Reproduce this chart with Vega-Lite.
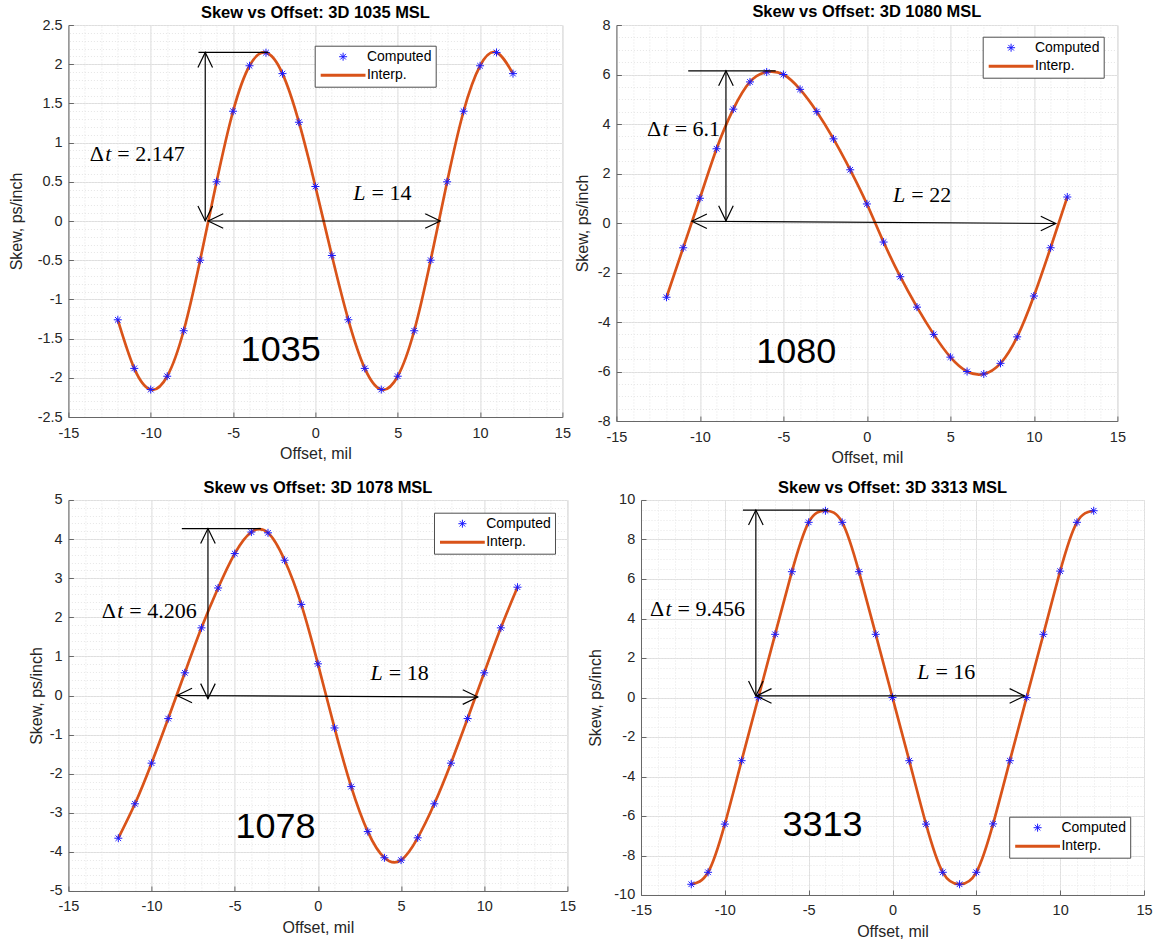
{
  "$schema": "https://vega.github.io/schema/vega-lite/v6.json",
  "padding": {"left": 7.4, "top": 3, "right": 2, "bottom": 4},
  "spacing": 14,
  "resolve": {"scale": {"color": "independent", "shape": "independent", "strokeWidth": "independent", "angle": "independent"}},
  "config": {
    "font": "Liberation Sans",
    "view": {"stroke": "#d9d9d9"},
    "axis": {"labelFont": "Liberation Sans", "labelFontSize": 14.5, "labelColor": "#262626", "titleFont": "Liberation Sans", "titleFontSize": 16, "titleFontWeight": "normal", "titleColor": "#262626", "domainColor": "#666666", "tickColor": "#666666", "gridColor": "#dedede", "gridOpacity": 1, "labelFlush": false, "labelOverlap": false},
    "title": {"font": "Liberation Sans", "fontSize": 16.5, "fontWeight": "bold", "color": "#000000", "anchor": "middle"},
    "legend": {"symbolSize": 64, "symbolOffset": 17.4, "labelOffset": 16.8, "padding": 4, "strokeColor": "#4d4d4d", "fillColor": "#ffffff", "labelFont": "Liberation Sans", "labelFontSize": 14, "labelColor": "#000000", "rowPadding": 4.5, "cornerRadius": 0, "labelLimit": 200}
  },
  "datasets": {
    "pts": [
      {"p":"1035","x":-12,"y":-1.26,"s":"Computed"},{"p":"1035","x":-11,"y":-1.88,"s":"Computed"},{"p":"1035","x":-10,"y":-2.15,"s":"Computed"},{"p":"1035","x":-9,"y":-1.98,"s":"Computed"},{"p":"1035","x":-8,"y":-1.4,"s":"Computed"},{"p":"1035","x":-7,"y":-0.5,"s":"Computed"},{"p":"1035","x":-6,"y":0.5,"s":"Computed"},{"p":"1035","x":-5,"y":1.4,"s":"Computed"},{"p":"1035","x":-4,"y":1.98,"s":"Computed"},{"p":"1035","x":-3,"y":2.147,"s":"Computed"},{"p":"1035","x":-2,"y":1.88,"s":"Computed"},{"p":"1035","x":-1,"y":1.26,"s":"Computed"},{"p":"1035","x":0,"y":0.44,"s":"Computed"},{"p":"1035","x":1,"y":-0.44,"s":"Computed"},{"p":"1035","x":2,"y":-1.26,"s":"Computed"},{"p":"1035","x":3,"y":-1.88,"s":"Computed"},{"p":"1035","x":4,"y":-2.15,"s":"Computed"},{"p":"1035","x":5,"y":-1.98,"s":"Computed"},{"p":"1035","x":6,"y":-1.4,"s":"Computed"},{"p":"1035","x":7,"y":-0.5,"s":"Computed"},{"p":"1035","x":8,"y":0.5,"s":"Computed"},{"p":"1035","x":9,"y":1.4,"s":"Computed"},{"p":"1035","x":10,"y":1.98,"s":"Computed"},{"p":"1035","x":11,"y":2.15,"s":"Computed"},{"p":"1035","x":12,"y":1.88,"s":"Computed"},
      {"p":"1080","x":-12,"y":-3.0,"s":"Computed"},{"p":"1080","x":-11,"y":-1.0,"s":"Computed"},{"p":"1080","x":-10,"y":1.0,"s":"Computed"},{"p":"1080","x":-9,"y":3.0,"s":"Computed"},{"p":"1080","x":-8,"y":4.6,"s":"Computed"},{"p":"1080","x":-7,"y":5.7,"s":"Computed"},{"p":"1080","x":-6,"y":6.1,"s":"Computed"},{"p":"1080","x":-5,"y":6.0,"s":"Computed"},{"p":"1080","x":-4,"y":5.4,"s":"Computed"},{"p":"1080","x":-3,"y":4.5,"s":"Computed"},{"p":"1080","x":-2,"y":3.4,"s":"Computed"},{"p":"1080","x":-1,"y":2.15,"s":"Computed"},{"p":"1080","x":0,"y":0.77,"s":"Computed"},{"p":"1080","x":1,"y":-0.77,"s":"Computed"},{"p":"1080","x":2,"y":-2.17,"s":"Computed"},{"p":"1080","x":3,"y":-3.4,"s":"Computed"},{"p":"1080","x":4,"y":-4.5,"s":"Computed"},{"p":"1080","x":5,"y":-5.42,"s":"Computed"},{"p":"1080","x":6,"y":-6.0,"s":"Computed"},{"p":"1080","x":7,"y":-6.1,"s":"Computed"},{"p":"1080","x":8,"y":-5.67,"s":"Computed"},{"p":"1080","x":9,"y":-4.6,"s":"Computed"},{"p":"1080","x":10,"y":-2.95,"s":"Computed"},{"p":"1080","x":11,"y":-1.0,"s":"Computed"},{"p":"1080","x":12,"y":1.05,"s":"Computed"},
      {"p":"1078","x":-12,"y":-3.65,"s":"Computed"},{"p":"1078","x":-11,"y":-2.77,"s":"Computed"},{"p":"1078","x":-10,"y":-1.73,"s":"Computed"},{"p":"1078","x":-9,"y":-0.59,"s":"Computed"},{"p":"1078","x":-8,"y":0.58,"s":"Computed"},{"p":"1078","x":-7,"y":1.73,"s":"Computed"},{"p":"1078","x":-6,"y":2.75,"s":"Computed"},{"p":"1078","x":-5,"y":3.63,"s":"Computed"},{"p":"1078","x":-4,"y":4.18,"s":"Computed"},{"p":"1078","x":-3,"y":4.16,"s":"Computed"},{"p":"1078","x":-2,"y":3.46,"s":"Computed"},{"p":"1078","x":-1,"y":2.33,"s":"Computed"},{"p":"1078","x":0,"y":0.81,"s":"Computed"},{"p":"1078","x":1,"y":-0.83,"s":"Computed"},{"p":"1078","x":2,"y":-2.33,"s":"Computed"},{"p":"1078","x":3,"y":-3.48,"s":"Computed"},{"p":"1078","x":4,"y":-4.15,"s":"Computed"},{"p":"1078","x":5,"y":-4.21,"s":"Computed"},{"p":"1078","x":6,"y":-3.64,"s":"Computed"},{"p":"1078","x":7,"y":-2.77,"s":"Computed"},{"p":"1078","x":8,"y":-1.73,"s":"Computed"},{"p":"1078","x":9,"y":-0.59,"s":"Computed"},{"p":"1078","x":10,"y":0.58,"s":"Computed"},{"p":"1078","x":11,"y":1.73,"s":"Computed"},{"p":"1078","x":12,"y":2.77,"s":"Computed"},
      {"p":"3313","x":-12,"y":-9.456,"s":"Computed"},{"p":"3313","x":-11,"y":-8.85,"s":"Computed"},{"p":"3313","x":-10,"y":-6.41,"s":"Computed"},{"p":"3313","x":-9,"y":-3.2,"s":"Computed"},{"p":"3313","x":-8,"y":0,"s":"Computed"},{"p":"3313","x":-7,"y":3.2,"s":"Computed"},{"p":"3313","x":-6,"y":6.37,"s":"Computed"},{"p":"3313","x":-5,"y":8.87,"s":"Computed"},{"p":"3313","x":-4,"y":9.456,"s":"Computed"},{"p":"3313","x":-3,"y":8.87,"s":"Computed"},{"p":"3313","x":-2,"y":6.37,"s":"Computed"},{"p":"3313","x":-1,"y":3.2,"s":"Computed"},{"p":"3313","x":0,"y":0,"s":"Computed"},{"p":"3313","x":1,"y":-3.2,"s":"Computed"},{"p":"3313","x":2,"y":-6.41,"s":"Computed"},{"p":"3313","x":3,"y":-8.85,"s":"Computed"},{"p":"3313","x":4,"y":-9.456,"s":"Computed"},{"p":"3313","x":5,"y":-8.85,"s":"Computed"},{"p":"3313","x":6,"y":-6.4,"s":"Computed"},{"p":"3313","x":7,"y":-3.2,"s":"Computed"},{"p":"3313","x":8,"y":0,"s":"Computed"},{"p":"3313","x":9,"y":3.2,"s":"Computed"},{"p":"3313","x":10,"y":6.4,"s":"Computed"},{"p":"3313","x":11,"y":8.87,"s":"Computed"},{"p":"3313","x":12,"y":9.456,"s":"Computed"}
    ],
    "seg": [
      {"p":"1035","x":-7.1,"y":2.15,"x2":-2.85,"y2":2.15},{"p":"1035","x":-6.69,"y":2.15,"x2":-6.69,"y2":0},{"p":"1035","x":-6.51,"y":0,"x2":7.58,"y2":0},
      {"p":"1080","x":-10.7,"y":6.15,"x2":-5.46,"y2":6.15},{"p":"1080","x":-8.44,"y":6.15,"x2":-8.44,"y2":0.09},{"p":"1080","x":-10.48,"y":0.07,"x2":11.31,"y2":-0.02},
      {"p":"1078","x":-8.18,"y":4.27,"x2":-3.43,"y2":4.27},{"p":"1078","x":-6.61,"y":4.27,"x2":-6.61,"y2":-0.08},{"p":"1078","x":-8.47,"y":0,"x2":9.61,"y2":-0.04},
      {"p":"3313","x":-8.92,"y":9.49,"x2":-3.85,"y2":9.49},{"p":"3313","x":-8.15,"y":9.49,"x2":-8.15,"y2":0.08},{"p":"3313","x":-8.11,"y":0.08,"x2":7.88,"y2":0.08}
    ],
    "heads": [
      {"p":"1035","x":-6.69,"y":2.15,"dir":"up"},{"p":"1035","x":-6.69,"y":0,"dir":"down"},{"p":"1035","x":-6.51,"y":0,"dir":"left"},{"p":"1035","x":7.58,"y":0,"dir":"right"},
      {"p":"1080","x":-8.44,"y":6.15,"dir":"up"},{"p":"1080","x":-8.44,"y":0.09,"dir":"down"},{"p":"1080","x":-10.48,"y":0.07,"dir":"left"},{"p":"1080","x":11.31,"y":-0.02,"dir":"right"},
      {"p":"1078","x":-6.61,"y":4.27,"dir":"up"},{"p":"1078","x":-6.61,"y":-0.08,"dir":"down"},{"p":"1078","x":-8.47,"y":0,"dir":"left"},{"p":"1078","x":9.61,"y":-0.04,"dir":"right"},
      {"p":"3313","x":-8.15,"y":9.49,"dir":"up"},{"p":"3313","x":-8.15,"y":0.08,"dir":"down"},{"p":"3313","x":-8.11,"y":0.08,"dir":"left"},{"p":"3313","x":7.88,"y":0.08,"dir":"right"}
    ],
    "lab": [
      {"p":"1035","x":-12.21,"y":0.77,"pre":"Δ","v":"t","rest":"= 2.147"},{"p":"1035","x":3.23,"y":0.27,"pre":"","v":"L","rest":"= 14"},
      {"p":"1080","x":-11.69,"y":3.53,"pre":"Δ","v":"t","rest":"= 6.1"},{"p":"1080","x":2.48,"y":0.86,"pre":"","v":"L","rest":"= 22"},
      {"p":"1078","x":-11.52,"y":1.99,"pre":"Δ","v":"t","rest":"= 4.206"},{"p":"1078","x":4.08,"y":0.4,"pre":"","v":"L","rest":"= 18"},
      {"p":"3313","x":-13.0,"y":4.13,"pre":"Δ","v":"t","rest":"= 9.456"},{"p":"3313","x":2.38,"y":0.95,"pre":"","v":"L","rest":"= 16"}
    ],
    "big": [
      {"p":"1035","x":-2.11,"y":-1.78,"t":"1035"},
      {"p":"1080","x":-4.23,"y":-5.67,"t":"1080"},
      {"p":"1078","x":-2.55,"y":-3.64,"t":"1078"},
      {"p":"3313","x":-4.18,"y":-7.01,"t":"3313"}
    ]
  },
  "vconcat": [
    {
      "spacing": 2,
      "resolve": {"scale": {"color": "independent", "shape": "independent", "strokeWidth": "independent", "angle": "independent"}},
      "hconcat": [
        {
          "width": 494, "height": 392,
          "title": {"text": "Skew vs Offset: 3D 1035 MSL", "offset": -4},
          "layer": [
            {"data": {"name": "pts"}, "transform": [{"filter": "datum.p == '1035'"}],
             "mark": {"type": "line", "interpolate": "natural", "color": "#D95319", "strokeWidth": 2.7},
             "encoding": {
               "x": {"field": "x", "type": "quantitative", "scale": {"domain": [-15, 15], "nice": false, "zero": false},
                     "axis": {"orient": "bottom", "values": [-15, -10, -5, 0, 5, 10, 15], "title": "Offset, mil", "grid": true, "labelExpr": "replace(format(datum.value, '~g'), '−', '-')", "tickSize": -5, "labelPadding": 14, "titlePadding": 6}},
               "y": {"field": "y", "type": "quantitative", "scale": {"domain": [-2.5, 2.5], "nice": false, "zero": false},
                     "axis": {"orient": "left", "values": [-2.5, -2, -1.5, -1, -0.5, 0, 0.5, 1, 1.5, 2, 2.5], "title": "Skew, ps/inch", "grid": true, "labelExpr": "replace(format(datum.value, '~g'), '−', '-')", "tickSize": -5, "labelPadding": 11.3, "titlePadding": 12.6}}
             }},
            {"data": {"name": "pts"}, "transform": [{"filter": "datum.p == '1035'"}],
             "mark": {"type": "point", "filled": false, "opacity": 1, "size": 64},
             "encoding": {
               "x": {"field": "x", "type": "quantitative", "scale": {"domain": [-15, 15], "nice": false, "zero": false}, "axis": null},
               "y": {"field": "y", "type": "quantitative", "scale": {"domain": [-2.5, 2.5], "nice": false, "zero": false}, "axis": null},
               "color": {"field": "s", "type": "nominal", "scale": {"domain": ["Computed", "Interp."], "range": ["#1a1aff", "#D95319"]}, "legend": {"orient": "none", "legendX": 246.3, "legendY": 20.7, "title": null}},
               "shape": {"field": "s", "type": "nominal", "scale": {"domain": ["Computed", "Interp."], "range": ["M-1,0L1,0M0,-1L0,1M-0.7,-0.7L0.7,0.7M-0.7,0.7L0.7,-0.7", "M-5.6,0L5.6,0"]}, "legend": {"orient": "none", "legendX": 246.3, "legendY": 20.7, "title": null}},
               "strokeWidth": {"field": "s", "type": "nominal", "scale": {"type": "point", "domain": ["Computed", "Interp."], "range": [1, 3], "padding": 0}, "legend": {"orient": "none", "legendX": 246.3, "legendY": 20.7, "title": null}}
             }},
            {"data": {"name": "seg"}, "transform": [{"filter": "datum.p == '1035'"}],
             "mark": {"type": "rule", "color": "#000000", "strokeWidth": 1.2},
             "encoding": {
               "x": {"field": "x", "type": "quantitative", "scale": {"domain": [-15, 15], "nice": false, "zero": false},
                     "axis": {"orient": "top", "values": [-15,-14,-13,-12,-11,-10,-9,-8,-7,-6,-5,-4,-3,-2,-1,0,1,2,3,4,5,6,7,8,9,10,11,12,13,14,15], "grid": true, "gridColor": "#e6e6e6", "gridDash": [1, 2], "labels": false, "ticks": false, "domain": false, "title": null}},
               "y": {"field": "y", "type": "quantitative", "scale": {"domain": [-2.5, 2.5], "nice": false, "zero": false},
                     "axis": {"orient": "right", "values": [-2.5,-2.4,-2.3,-2.2,-2.1,-2,-1.9,-1.8,-1.7,-1.6,-1.5,-1.4,-1.3,-1.2,-1.1,-1,-0.9,-0.8,-0.7,-0.6,-0.5,-0.4,-0.3,-0.2,-0.1,0,0.1,0.2,0.3,0.4,0.5,0.6,0.7,0.8,0.9,1,1.1,1.2,1.3,1.4,1.5,1.6,1.7,1.8,1.9,2,2.1,2.2,2.3,2.4,2.5], "grid": true, "gridColor": "#e6e6e6", "gridDash": [1, 2], "labels": false, "ticks": false, "domain": false, "title": null}},
               "x2": {"field": "x2"}, "y2": {"field": "y2"}
             }},
            {"data": {"name": "heads"}, "transform": [{"filter": "datum.p == '1035'"}],
             "mark": {"type": "point", "shape": "M3,-1.46L0,0L3,1.46", "filled": false, "stroke": "#000000", "strokeWidth": 1.2, "size": 100, "opacity": 1},
             "encoding": {
               "x": {"field": "x", "type": "quantitative", "scale": {"domain": [-15, 15], "nice": false, "zero": false}, "axis": null},
               "y": {"field": "y", "type": "quantitative", "scale": {"domain": [-2.5, 2.5], "nice": false, "zero": false}, "axis": null},
               "angle": {"field": "dir", "type": "nominal", "scale": {"type": "point", "domain": ["left", "up", "right", "down"], "range": [0, 270], "padding": 0}, "legend": null}
             }},
            {"data": {"name": "big"}, "transform": [{"filter": "datum.p == '1035'"}],
             "mark": {"type": "text", "font": "Liberation Sans", "fontSize": 36, "align": "center", "baseline": "alphabetic", "color": "#000000"},
             "encoding": {
               "x": {"field": "x", "type": "quantitative", "scale": {"domain": [-15, 15], "nice": false, "zero": false}, "axis": null},
               "y": {"field": "y", "type": "quantitative", "scale": {"domain": [-2.5, 2.5], "nice": false, "zero": false}, "axis": null},
               "text": {"field": "t"}
             }},
            {"data": {"name": "lab"}, "transform": [{"filter": "datum.p == '1035'"}],
             "mark": {"type": "text", "font": "Liberation Serif", "fontSize": 22, "align": "right", "dx": -10.5, "baseline": "alphabetic", "color": "#000000"},
             "encoding": {
               "x": {"field": "x", "type": "quantitative", "scale": {"domain": [-15, 15], "nice": false, "zero": false}, "axis": null},
               "y": {"field": "y", "type": "quantitative", "scale": {"domain": [-2.5, 2.5], "nice": false, "zero": false}, "axis": null},
               "text": {"field": "pre"}
             }},
            {"data": {"name": "lab"}, "transform": [{"filter": "datum.p == '1035'"}],
             "mark": {"type": "text", "font": "Liberation Serif", "fontStyle": "italic", "fontSize": 22, "align": "right", "dx": -3, "baseline": "alphabetic", "color": "#000000"},
             "encoding": {
               "x": {"field": "x", "type": "quantitative", "scale": {"domain": [-15, 15], "nice": false, "zero": false}, "axis": null},
               "y": {"field": "y", "type": "quantitative", "scale": {"domain": [-2.5, 2.5], "nice": false, "zero": false}, "axis": null},
               "text": {"field": "v"}
             }},
            {"data": {"name": "lab"}, "transform": [{"filter": "datum.p == '1035'"}],
             "mark": {"type": "text", "font": "Liberation Serif", "fontSize": 22, "align": "left", "dx": 3, "baseline": "alphabetic", "color": "#000000"},
             "encoding": {
               "x": {"field": "x", "type": "quantitative", "scale": {"domain": [-15, 15], "nice": false, "zero": false}, "axis": null},
               "y": {"field": "y", "type": "quantitative", "scale": {"domain": [-2.5, 2.5], "nice": false, "zero": false}, "axis": null},
               "text": {"field": "rest"}
             }}
          ]
        },
        {
          "width": 501, "height": 396,
          "title": {"text": "Skew vs Offset: 3D 1080 MSL", "offset": -3},
          "layer": [
            {"data": {"name": "pts"}, "transform": [{"filter": "datum.p == '1080'"}],
             "mark": {"type": "line", "interpolate": "natural", "color": "#D95319", "strokeWidth": 2.7},
             "encoding": {
               "x": {"field": "x", "type": "quantitative", "scale": {"domain": [-15, 15], "nice": false, "zero": false},
                     "axis": {"orient": "bottom", "values": [-15, -10, -5, 0, 5, 10, 15], "title": "Offset, mil", "grid": true, "labelExpr": "replace(format(datum.value, '~g'), '−', '-')", "tickSize": -5, "labelPadding": 14, "titlePadding": 6}},
               "y": {"field": "y", "type": "quantitative", "scale": {"domain": [-8, 8], "nice": false, "zero": false},
                     "axis": {"orient": "left", "values": [-8, -6, -4, -2, 0, 2, 4, 6, 8], "title": "Skew, ps/inch", "grid": true, "labelExpr": "replace(format(datum.value, '~g'), '−', '-')", "tickSize": -5, "labelPadding": 11.3, "titlePadding": 6.5}}
             }},
            {"data": {"name": "pts"}, "transform": [{"filter": "datum.p == '1080'"}],
             "mark": {"type": "point", "filled": false, "opacity": 1, "size": 64},
             "encoding": {
               "x": {"field": "x", "type": "quantitative", "scale": {"domain": [-15, 15], "nice": false, "zero": false}, "axis": null},
               "y": {"field": "y", "type": "quantitative", "scale": {"domain": [-8, 8], "nice": false, "zero": false}, "axis": null},
               "color": {"field": "s", "type": "nominal", "scale": {"domain": ["Computed", "Interp."], "range": ["#1a1aff", "#D95319"]}, "legend": {"orient": "none", "legendX": 366.3, "legendY": 11.7, "title": null}},
               "shape": {"field": "s", "type": "nominal", "scale": {"domain": ["Computed", "Interp."], "range": ["M-1,0L1,0M0,-1L0,1M-0.7,-0.7L0.7,0.7M-0.7,0.7L0.7,-0.7", "M-5.6,0L5.6,0"]}, "legend": {"orient": "none", "legendX": 366.3, "legendY": 11.7, "title": null}},
               "strokeWidth": {"field": "s", "type": "nominal", "scale": {"type": "point", "domain": ["Computed", "Interp."], "range": [1, 3], "padding": 0}, "legend": {"orient": "none", "legendX": 366.3, "legendY": 11.7, "title": null}}
             }},
            {"data": {"name": "seg"}, "transform": [{"filter": "datum.p == '1080'"}],
             "mark": {"type": "rule", "color": "#000000", "strokeWidth": 1.2},
             "encoding": {
               "x": {"field": "x", "type": "quantitative", "scale": {"domain": [-15, 15], "nice": false, "zero": false},
                     "axis": {"orient": "top", "values": [-15,-14,-13,-12,-11,-10,-9,-8,-7,-6,-5,-4,-3,-2,-1,0,1,2,3,4,5,6,7,8,9,10,11,12,13,14,15], "grid": true, "gridColor": "#e6e6e6", "gridDash": [1, 2], "labels": false, "ticks": false, "domain": false, "title": null}},
               "y": {"field": "y", "type": "quantitative", "scale": {"domain": [-8, 8], "nice": false, "zero": false},
                     "axis": {"orient": "right", "values": [-8,-7.5,-7,-6.5,-6,-5.5,-5,-4.5,-4,-3.5,-3,-2.5,-2,-1.5,-1,-0.5,0,0.5,1,1.5,2,2.5,3,3.5,4,4.5,5,5.5,6,6.5,7,7.5,8], "grid": true, "gridColor": "#e6e6e6", "gridDash": [1, 2], "labels": false, "ticks": false, "domain": false, "title": null}},
               "x2": {"field": "x2"}, "y2": {"field": "y2"}
             }},
            {"data": {"name": "heads"}, "transform": [{"filter": "datum.p == '1080'"}],
             "mark": {"type": "point", "shape": "M3,-1.46L0,0L3,1.46", "filled": false, "stroke": "#000000", "strokeWidth": 1.2, "size": 100, "opacity": 1},
             "encoding": {
               "x": {"field": "x", "type": "quantitative", "scale": {"domain": [-15, 15], "nice": false, "zero": false}, "axis": null},
               "y": {"field": "y", "type": "quantitative", "scale": {"domain": [-8, 8], "nice": false, "zero": false}, "axis": null},
               "angle": {"field": "dir", "type": "nominal", "scale": {"type": "point", "domain": ["left", "up", "right", "down"], "range": [0, 270], "padding": 0}, "legend": null}
             }},
            {"data": {"name": "big"}, "transform": [{"filter": "datum.p == '1080'"}],
             "mark": {"type": "text", "font": "Liberation Sans", "fontSize": 36, "align": "center", "baseline": "alphabetic", "color": "#000000"},
             "encoding": {
               "x": {"field": "x", "type": "quantitative", "scale": {"domain": [-15, 15], "nice": false, "zero": false}, "axis": null},
               "y": {"field": "y", "type": "quantitative", "scale": {"domain": [-8, 8], "nice": false, "zero": false}, "axis": null},
               "text": {"field": "t"}
             }},
            {"data": {"name": "lab"}, "transform": [{"filter": "datum.p == '1080'"}],
             "mark": {"type": "text", "font": "Liberation Serif", "fontSize": 22, "align": "right", "dx": -10.5, "baseline": "alphabetic", "color": "#000000"},
             "encoding": {
               "x": {"field": "x", "type": "quantitative", "scale": {"domain": [-15, 15], "nice": false, "zero": false}, "axis": null},
               "y": {"field": "y", "type": "quantitative", "scale": {"domain": [-8, 8], "nice": false, "zero": false}, "axis": null},
               "text": {"field": "pre"}
             }},
            {"data": {"name": "lab"}, "transform": [{"filter": "datum.p == '1080'"}],
             "mark": {"type": "text", "font": "Liberation Serif", "fontStyle": "italic", "fontSize": 22, "align": "right", "dx": -3, "baseline": "alphabetic", "color": "#000000"},
             "encoding": {
               "x": {"field": "x", "type": "quantitative", "scale": {"domain": [-15, 15], "nice": false, "zero": false}, "axis": null},
               "y": {"field": "y", "type": "quantitative", "scale": {"domain": [-8, 8], "nice": false, "zero": false}, "axis": null},
               "text": {"field": "v"}
             }},
            {"data": {"name": "lab"}, "transform": [{"filter": "datum.p == '1080'"}],
             "mark": {"type": "text", "font": "Liberation Serif", "fontSize": 22, "align": "left", "dx": 3, "baseline": "alphabetic", "color": "#000000"},
             "encoding": {
               "x": {"field": "x", "type": "quantitative", "scale": {"domain": [-15, 15], "nice": false, "zero": false}, "axis": null},
               "y": {"field": "y", "type": "quantitative", "scale": {"domain": [-8, 8], "nice": false, "zero": false}, "axis": null},
               "text": {"field": "rest"}
             }}
          ]
        }
      ]
    },
    {
      "spacing": 10.6,
      "resolve": {"scale": {"color": "independent", "shape": "independent", "strokeWidth": "independent", "angle": "independent"}},
      "hconcat": [
        {
          "width": 499, "height": 391,
          "title": {"text": "Skew vs Offset: 3D 1078 MSL", "offset": -5},
          "layer": [
            {"data": {"name": "pts"}, "transform": [{"filter": "datum.p == '1078'"}],
             "mark": {"type": "line", "interpolate": "natural", "color": "#D95319", "strokeWidth": 2.7},
             "encoding": {
               "x": {"field": "x", "type": "quantitative", "scale": {"domain": [-15, 15], "nice": false, "zero": false},
                     "axis": {"orient": "bottom", "values": [-15, -10, -5, 0, 5, 10, 15], "title": "Offset, mil", "grid": true, "labelExpr": "replace(format(datum.value, '~g'), '−', '-')", "tickSize": -5, "labelPadding": 14, "titlePadding": 6}},
               "y": {"field": "y", "type": "quantitative", "scale": {"domain": [-5, 5], "nice": false, "zero": false},
                     "axis": {"orient": "left", "values": [-5, -4, -3, -2, -1, 0, 1, 2, 3, 4, 5], "title": "Skew, ps/inch", "grid": true, "labelExpr": "replace(format(datum.value, '~g'), '−', '-')", "tickSize": -5, "labelPadding": 11.3, "titlePadding": 5.2}}
             }},
            {"data": {"name": "pts"}, "transform": [{"filter": "datum.p == '1078'"}],
             "mark": {"type": "point", "filled": false, "opacity": 1, "size": 64},
             "encoding": {
               "x": {"field": "x", "type": "quantitative", "scale": {"domain": [-15, 15], "nice": false, "zero": false}, "axis": null},
               "y": {"field": "y", "type": "quantitative", "scale": {"domain": [-5, 5], "nice": false, "zero": false}, "axis": null},
               "color": {"field": "s", "type": "nominal", "scale": {"domain": ["Computed", "Interp."], "range": ["#1a1aff", "#D95319"]}, "legend": {"orient": "none", "legendX": 365.6, "legendY": 12.7, "title": null}},
               "shape": {"field": "s", "type": "nominal", "scale": {"domain": ["Computed", "Interp."], "range": ["M-1,0L1,0M0,-1L0,1M-0.7,-0.7L0.7,0.7M-0.7,0.7L0.7,-0.7", "M-5.6,0L5.6,0"]}, "legend": {"orient": "none", "legendX": 365.6, "legendY": 12.7, "title": null}},
               "strokeWidth": {"field": "s", "type": "nominal", "scale": {"type": "point", "domain": ["Computed", "Interp."], "range": [1, 3], "padding": 0}, "legend": {"orient": "none", "legendX": 365.6, "legendY": 12.7, "title": null}}
             }},
            {"data": {"name": "seg"}, "transform": [{"filter": "datum.p == '1078'"}],
             "mark": {"type": "rule", "color": "#000000", "strokeWidth": 1.2},
             "encoding": {
               "x": {"field": "x", "type": "quantitative", "scale": {"domain": [-15, 15], "nice": false, "zero": false},
                     "axis": {"orient": "top", "values": [-15,-14,-13,-12,-11,-10,-9,-8,-7,-6,-5,-4,-3,-2,-1,0,1,2,3,4,5,6,7,8,9,10,11,12,13,14,15], "grid": true, "gridColor": "#e6e6e6", "gridDash": [1, 2], "labels": false, "ticks": false, "domain": false, "title": null}},
               "y": {"field": "y", "type": "quantitative", "scale": {"domain": [-5, 5], "nice": false, "zero": false},
                     "axis": {"orient": "right", "values": [-5,-4.8,-4.6,-4.4,-4.2,-4,-3.8,-3.6,-3.4,-3.2,-3,-2.8,-2.6,-2.4,-2.2,-2,-1.8,-1.6,-1.4,-1.2,-1,-0.8,-0.6,-0.4,-0.2,0,0.2,0.4,0.6,0.8,1,1.2,1.4,1.6,1.8,2,2.2,2.4,2.6,2.8,3,3.2,3.4,3.6,3.8,4,4.2,4.4,4.6,4.8,5], "grid": true, "gridColor": "#e6e6e6", "gridDash": [1, 2], "labels": false, "ticks": false, "domain": false, "title": null}},
               "x2": {"field": "x2"}, "y2": {"field": "y2"}
             }},
            {"data": {"name": "heads"}, "transform": [{"filter": "datum.p == '1078'"}],
             "mark": {"type": "point", "shape": "M3,-1.46L0,0L3,1.46", "filled": false, "stroke": "#000000", "strokeWidth": 1.2, "size": 100, "opacity": 1},
             "encoding": {
               "x": {"field": "x", "type": "quantitative", "scale": {"domain": [-15, 15], "nice": false, "zero": false}, "axis": null},
               "y": {"field": "y", "type": "quantitative", "scale": {"domain": [-5, 5], "nice": false, "zero": false}, "axis": null},
               "angle": {"field": "dir", "type": "nominal", "scale": {"type": "point", "domain": ["left", "up", "right", "down"], "range": [0, 270], "padding": 0}, "legend": null}
             }},
            {"data": {"name": "big"}, "transform": [{"filter": "datum.p == '1078'"}],
             "mark": {"type": "text", "font": "Liberation Sans", "fontSize": 36, "align": "center", "baseline": "alphabetic", "color": "#000000"},
             "encoding": {
               "x": {"field": "x", "type": "quantitative", "scale": {"domain": [-15, 15], "nice": false, "zero": false}, "axis": null},
               "y": {"field": "y", "type": "quantitative", "scale": {"domain": [-5, 5], "nice": false, "zero": false}, "axis": null},
               "text": {"field": "t"}
             }},
            {"data": {"name": "lab"}, "transform": [{"filter": "datum.p == '1078'"}],
             "mark": {"type": "text", "font": "Liberation Serif", "fontSize": 22, "align": "right", "dx": -10.5, "baseline": "alphabetic", "color": "#000000"},
             "encoding": {
               "x": {"field": "x", "type": "quantitative", "scale": {"domain": [-15, 15], "nice": false, "zero": false}, "axis": null},
               "y": {"field": "y", "type": "quantitative", "scale": {"domain": [-5, 5], "nice": false, "zero": false}, "axis": null},
               "text": {"field": "pre"}
             }},
            {"data": {"name": "lab"}, "transform": [{"filter": "datum.p == '1078'"}],
             "mark": {"type": "text", "font": "Liberation Serif", "fontStyle": "italic", "fontSize": 22, "align": "right", "dx": -3, "baseline": "alphabetic", "color": "#000000"},
             "encoding": {
               "x": {"field": "x", "type": "quantitative", "scale": {"domain": [-15, 15], "nice": false, "zero": false}, "axis": null},
               "y": {"field": "y", "type": "quantitative", "scale": {"domain": [-5, 5], "nice": false, "zero": false}, "axis": null},
               "text": {"field": "v"}
             }},
            {"data": {"name": "lab"}, "transform": [{"filter": "datum.p == '1078'"}],
             "mark": {"type": "text", "font": "Liberation Serif", "fontSize": 22, "align": "left", "dx": 3, "baseline": "alphabetic", "color": "#000000"},
             "encoding": {
               "x": {"field": "x", "type": "quantitative", "scale": {"domain": [-15, 15], "nice": false, "zero": false}, "axis": null},
               "y": {"field": "y", "type": "quantitative", "scale": {"domain": [-5, 5], "nice": false, "zero": false}, "axis": null},
               "text": {"field": "rest"}
             }}
          ]
        },
        {
          "width": 503, "height": 395,
          "title": {"text": "Skew vs Offset: 3D 3313 MSL", "offset": -5},
          "layer": [
            {"data": {"name": "pts"}, "transform": [{"filter": "datum.p == '3313'"}],
             "mark": {"type": "line", "interpolate": "natural", "color": "#D95319", "strokeWidth": 2.7},
             "encoding": {
               "x": {"field": "x", "type": "quantitative", "scale": {"domain": [-15, 15], "nice": false, "zero": false},
                     "axis": {"orient": "bottom", "values": [-15, -10, -5, 0, 5, 10, 15], "title": "Offset, mil", "grid": true, "labelExpr": "replace(format(datum.value, '~g'), '−', '-')", "tickSize": -5, "labelPadding": 14, "titlePadding": 6}},
               "y": {"field": "y", "type": "quantitative", "scale": {"domain": [-10, 10], "nice": false, "zero": false},
                     "axis": {"orient": "left", "values": [-10, -8, -6, -4, -2, 0, 2, 4, 6, 8, 10], "title": "Skew, ps/inch", "grid": true, "labelExpr": "replace(format(datum.value, '~g'), '−', '-')", "tickSize": -5, "labelPadding": 11.3, "titlePadding": 9.8}}
             }},
            {"data": {"name": "pts"}, "transform": [{"filter": "datum.p == '3313'"}],
             "mark": {"type": "point", "filled": false, "opacity": 1, "size": 64},
             "encoding": {
               "x": {"field": "x", "type": "quantitative", "scale": {"domain": [-15, 15], "nice": false, "zero": false}, "axis": null},
               "y": {"field": "y", "type": "quantitative", "scale": {"domain": [-10, 10], "nice": false, "zero": false}, "axis": null},
               "color": {"field": "s", "type": "nominal", "scale": {"domain": ["Computed", "Interp."], "range": ["#1a1aff", "#D95319"]}, "legend": {"orient": "none", "legendX": 368.2, "legendY": 316.7, "title": null}},
               "shape": {"field": "s", "type": "nominal", "scale": {"domain": ["Computed", "Interp."], "range": ["M-1,0L1,0M0,-1L0,1M-0.7,-0.7L0.7,0.7M-0.7,0.7L0.7,-0.7", "M-5.6,0L5.6,0"]}, "legend": {"orient": "none", "legendX": 368.2, "legendY": 316.7, "title": null}},
               "strokeWidth": {"field": "s", "type": "nominal", "scale": {"type": "point", "domain": ["Computed", "Interp."], "range": [1, 3], "padding": 0}, "legend": {"orient": "none", "legendX": 368.2, "legendY": 316.7, "title": null}}
             }},
            {"data": {"name": "seg"}, "transform": [{"filter": "datum.p == '3313'"}],
             "mark": {"type": "rule", "color": "#000000", "strokeWidth": 1.2},
             "encoding": {
               "x": {"field": "x", "type": "quantitative", "scale": {"domain": [-15, 15], "nice": false, "zero": false},
                     "axis": {"orient": "top", "values": [-15,-14,-13,-12,-11,-10,-9,-8,-7,-6,-5,-4,-3,-2,-1,0,1,2,3,4,5,6,7,8,9,10,11,12,13,14,15], "grid": true, "gridColor": "#e6e6e6", "gridDash": [1, 2], "labels": false, "ticks": false, "domain": false, "title": null}},
               "y": {"field": "y", "type": "quantitative", "scale": {"domain": [-10, 10], "nice": false, "zero": false},
                     "axis": {"orient": "right", "values": [-10,-9.5,-9,-8.5,-8,-7.5,-7,-6.5,-6,-5.5,-5,-4.5,-4,-3.5,-3,-2.5,-2,-1.5,-1,-0.5,0,0.5,1,1.5,2,2.5,3,3.5,4,4.5,5,5.5,6,6.5,7,7.5,8,8.5,9,9.5,10], "grid": true, "gridColor": "#e6e6e6", "gridDash": [1, 2], "labels": false, "ticks": false, "domain": false, "title": null}},
               "x2": {"field": "x2"}, "y2": {"field": "y2"}
             }},
            {"data": {"name": "heads"}, "transform": [{"filter": "datum.p == '3313'"}],
             "mark": {"type": "point", "shape": "M3,-1.46L0,0L3,1.46", "filled": false, "stroke": "#000000", "strokeWidth": 1.2, "size": 100, "opacity": 1},
             "encoding": {
               "x": {"field": "x", "type": "quantitative", "scale": {"domain": [-15, 15], "nice": false, "zero": false}, "axis": null},
               "y": {"field": "y", "type": "quantitative", "scale": {"domain": [-10, 10], "nice": false, "zero": false}, "axis": null},
               "angle": {"field": "dir", "type": "nominal", "scale": {"type": "point", "domain": ["left", "up", "right", "down"], "range": [0, 270], "padding": 0}, "legend": null}
             }},
            {"data": {"name": "big"}, "transform": [{"filter": "datum.p == '3313'"}],
             "mark": {"type": "text", "font": "Liberation Sans", "fontSize": 36, "align": "center", "baseline": "alphabetic", "color": "#000000"},
             "encoding": {
               "x": {"field": "x", "type": "quantitative", "scale": {"domain": [-15, 15], "nice": false, "zero": false}, "axis": null},
               "y": {"field": "y", "type": "quantitative", "scale": {"domain": [-10, 10], "nice": false, "zero": false}, "axis": null},
               "text": {"field": "t"}
             }},
            {"data": {"name": "lab"}, "transform": [{"filter": "datum.p == '3313'"}],
             "mark": {"type": "text", "font": "Liberation Serif", "fontSize": 22, "align": "right", "dx": -10.5, "baseline": "alphabetic", "color": "#000000"},
             "encoding": {
               "x": {"field": "x", "type": "quantitative", "scale": {"domain": [-15, 15], "nice": false, "zero": false}, "axis": null},
               "y": {"field": "y", "type": "quantitative", "scale": {"domain": [-10, 10], "nice": false, "zero": false}, "axis": null},
               "text": {"field": "pre"}
             }},
            {"data": {"name": "lab"}, "transform": [{"filter": "datum.p == '3313'"}],
             "mark": {"type": "text", "font": "Liberation Serif", "fontStyle": "italic", "fontSize": 22, "align": "right", "dx": -3, "baseline": "alphabetic", "color": "#000000"},
             "encoding": {
               "x": {"field": "x", "type": "quantitative", "scale": {"domain": [-15, 15], "nice": false, "zero": false}, "axis": null},
               "y": {"field": "y", "type": "quantitative", "scale": {"domain": [-10, 10], "nice": false, "zero": false}, "axis": null},
               "text": {"field": "v"}
             }},
            {"data": {"name": "lab"}, "transform": [{"filter": "datum.p == '3313'"}],
             "mark": {"type": "text", "font": "Liberation Serif", "fontSize": 22, "align": "left", "dx": 3, "baseline": "alphabetic", "color": "#000000"},
             "encoding": {
               "x": {"field": "x", "type": "quantitative", "scale": {"domain": [-15, 15], "nice": false, "zero": false}, "axis": null},
               "y": {"field": "y", "type": "quantitative", "scale": {"domain": [-10, 10], "nice": false, "zero": false}, "axis": null},
               "text": {"field": "rest"}
             }}
          ]
        }
      ]
    }
  ]
}
